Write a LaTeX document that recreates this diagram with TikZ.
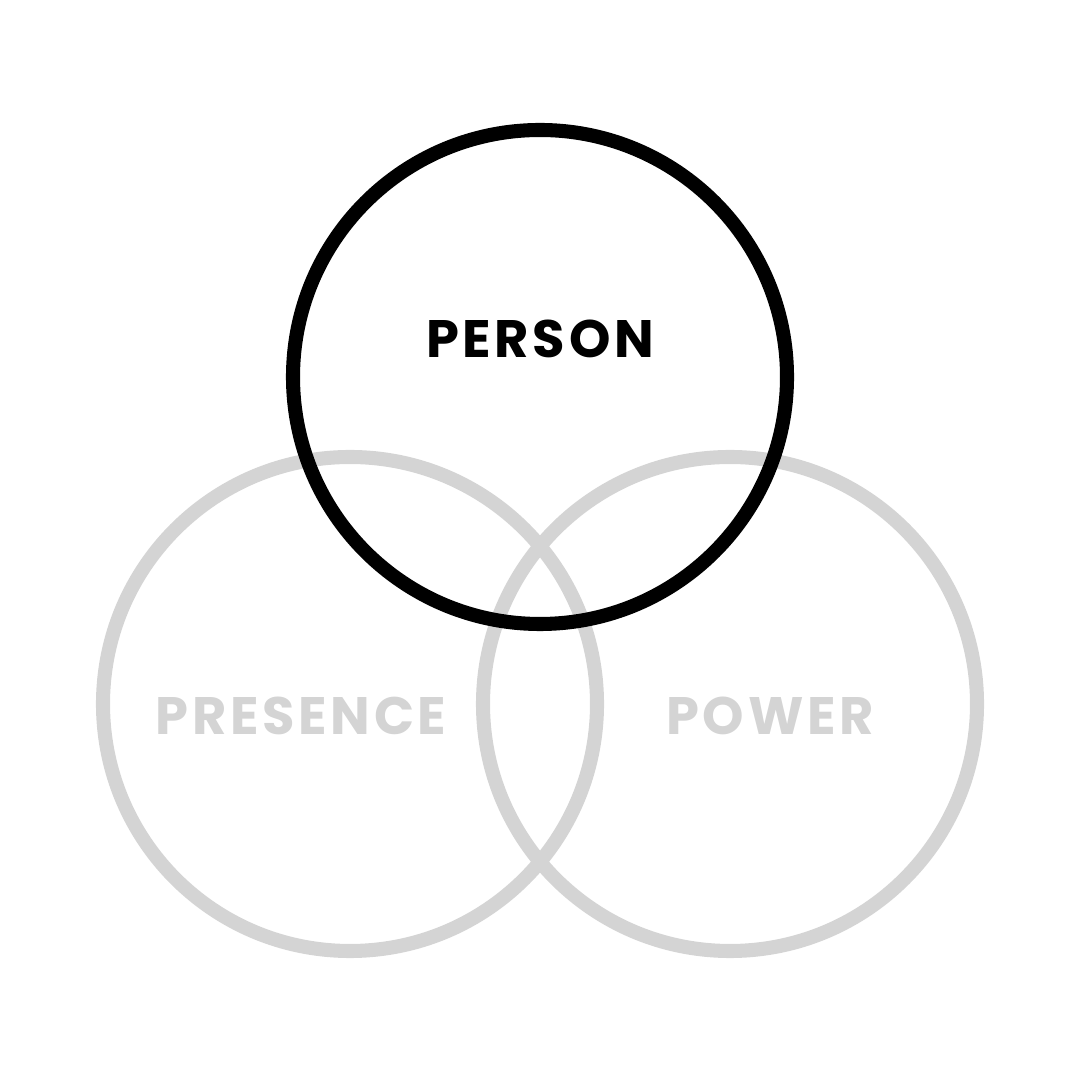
\documentclass[tikz,border=0pt]{standalone}
\usepackage{fontspec}
\setsansfont{Poppins}[UprightFont=* Bold, BoldFont=* Bold, LetterSpace=7]
\usepackage{xcolor}
\definecolor{ringgray}{HTML}{D4D4D4}

\begin{document}
\begin{tikzpicture}[
  ring/.style={circle, draw=ringgray, line width=4pt, minimum size=49.4mm,
               inner sep=0pt},
  focus/.style={ring, draw=black},
  word/.style={font=\sffamily\fontsize{15}{18}\selectfont, text=ringgray},
  focusword/.style={word, text=black}
]
  \useasboundingbox (0,0) rectangle (10.8,10.8);

  \node[ring] (presence) at (3.50,3.76) {};
  \node[ring] (power) at (7.30,3.76) {};
  \node[focus] (person) at (5.40,7.03) {};

  \node[focusword] (personlabel) at (5.40,7.41) {PERSON};
  \node[word] (presencelabel) at (3.01,3.64) {PRESENCE};
  \node[word] (powerlabel) at (7.70,3.64) {POWER};
\end{tikzpicture}
\end{document}
